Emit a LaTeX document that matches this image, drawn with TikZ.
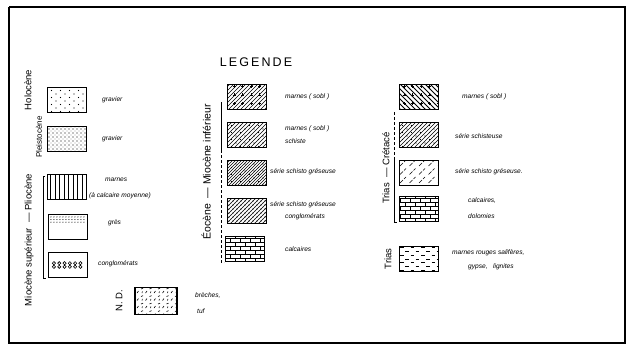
\documentclass[tikz,border=0pt]{standalone}
\usepackage{fontspec}
\setmainfont{Liberation Sans}
\usetikzlibrary{patterns}
% hand-drawn looking fills for the legend boxes
\pgfdeclarepatternformonly{sparse dots}{\pgfqpoint{-1pt}{-1pt}}{\pgfqpoint{10pt}{8pt}}{\pgfqpoint{9pt}{7pt}}{%
  \pgfpathcircle{\pgfqpoint{2pt}{1pt}}{0.55pt}\pgfpathcircle{\pgfqpoint{6.5pt}{4.5pt}}{0.55pt}\pgfusepath{fill}}
\pgfdeclarepatternformonly{row dots}{\pgfqpoint{-1pt}{-1pt}}{\pgfqpoint{5pt}{5pt}}{\pgfqpoint{4pt}{4pt}}{%
  \pgfpathcircle{\pgfqpoint{1pt}{1pt}}{0.65pt}\pgfpathcircle{\pgfqpoint{3pt}{3pt}}{0.45pt}\pgfusepath{fill}}
\pgfdeclarepatternformonly{small bricks}{\pgfqpoint{-0.5pt}{-0.5pt}}{\pgfqpoint{10.5pt}{8.5pt}}{\pgfqpoint{10pt}{8pt}}{%
  \pgfsetlinewidth{0.7pt}%
  \pgfpathmoveto{\pgfqpoint{0pt}{0pt}}\pgfpathlineto{\pgfqpoint{10pt}{0pt}}%
  \pgfpathmoveto{\pgfqpoint{0pt}{4pt}}\pgfpathlineto{\pgfqpoint{10pt}{4pt}}%
  \pgfpathmoveto{\pgfqpoint{0pt}{0pt}}\pgfpathlineto{\pgfqpoint{0pt}{4pt}}%
  \pgfpathmoveto{\pgfqpoint{5pt}{4pt}}\pgfpathlineto{\pgfqpoint{5pt}{8pt}}\pgfusepath{stroke}}
\pgfdeclarepatternformonly{salt dashes}{\pgfqpoint{-0.5pt}{-0.5pt}}{\pgfqpoint{11pt}{8pt}}{\pgfqpoint{10.5pt}{7.5pt}}{%
  \pgfsetlinewidth{0.7pt}%
  \pgfpathmoveto{\pgfqpoint{1pt}{1.5pt}}\pgfpathlineto{\pgfqpoint{4.5pt}{1.5pt}}%
  \pgfpathmoveto{\pgfqpoint{6pt}{5pt}}\pgfpathlineto{\pgfqpoint{9.5pt}{5pt}}\pgfusepath{stroke}}
\pgfdeclarepatternformonly{ticks}{\pgfqpoint{-0.5pt}{-0.5pt}}{\pgfqpoint{9pt}{8pt}}{\pgfqpoint{8.5pt}{7.5pt}}{%
  \pgfsetlinewidth{0.6pt}%
  \pgfpathmoveto{\pgfqpoint{1pt}{1pt}}\pgfpathlineto{\pgfqpoint{2.5pt}{3pt}}%
  \pgfpathmoveto{\pgfqpoint{5pt}{5pt}}\pgfpathlineto{\pgfqpoint{7pt}{5.8pt}}%
  \pgfpathmoveto{\pgfqpoint{6pt}{1pt}}\pgfpathlineto{\pgfqpoint{6.4pt}{2.6pt}}\pgfusepath{stroke}}
\pgfdeclarepatternformonly{crosses}{\pgfqpoint{-0.5pt}{-0.5pt}}{\pgfqpoint{9pt}{9pt}}{\pgfqpoint{8.5pt}{8.5pt}}{%
  \pgfsetlinewidth{0.6pt}%
  \pgfpathmoveto{\pgfqpoint{3pt}{4pt}}\pgfpathlineto{\pgfqpoint{6pt}{4pt}}%
  \pgfpathmoveto{\pgfqpoint{4.5pt}{2.5pt}}\pgfpathlineto{\pgfqpoint{4.5pt}{5.5pt}}\pgfusepath{stroke}}
\pgfdeclarepatternformonly{wide vlines}{\pgfqpoint{-0.5pt}{-0.5pt}}{\pgfqpoint{5pt}{5pt}}{\pgfqpoint{4.5pt}{4.5pt}}{%
  \pgfsetlinewidth{1pt}%
  \pgfpathmoveto{\pgfqpoint{1pt}{-0.5pt}}\pgfpathlineto{\pgfqpoint{1pt}{5pt}}\pgfusepath{stroke}}
\pgfdeclarepatternformonly{wide nelines}{\pgfqpoint{-1pt}{-1pt}}{\pgfqpoint{5pt}{5pt}}{\pgfqpoint{4pt}{4pt}}{%
  \pgfsetlinewidth{0.6pt}%
  \pgfpathmoveto{\pgfqpoint{0pt}{0pt}}\pgfpathlineto{\pgfqpoint{4pt}{4pt}}\pgfusepath{stroke}}
\pgfdeclarepatternformonly{wide nwlines}{\pgfqpoint{-1pt}{-1pt}}{\pgfqpoint{6pt}{6pt}}{\pgfqpoint{5pt}{5pt}}{%
  \pgfsetlinewidth{0.9pt}%
  \pgfpathmoveto{\pgfqpoint{0pt}{5pt}}\pgfpathlineto{\pgfqpoint{5pt}{0pt}}\pgfusepath{stroke}}
\pgfdeclarepatternformonly{short nelines}{\pgfqpoint{-0.5pt}{-0.5pt}}{\pgfqpoint{10pt}{9pt}}{\pgfqpoint{9.5pt}{8.5pt}}{%
  \pgfsetlinewidth{0.6pt}%
  \pgfpathmoveto{\pgfqpoint{1pt}{1pt}}\pgfpathlineto{\pgfqpoint{4pt}{4pt}}%
  \pgfpathmoveto{\pgfqpoint{5pt}{5pt}}\pgfpathlineto{\pgfqpoint{7pt}{7pt}}\pgfusepath{stroke}}

\begin{document}
\begin{tikzpicture}[x=1pt,y=-1pt,
  bx/.style={draw,line width=1.1pt,minimum width=39pt,minimum height=25pt,inner sep=0pt},
  lb/.style={font=\fontsize{6.6}{7.5}\selectfont\itshape,anchor=west,inner sep=0pt},
  ep/.style={font=\fontsize{9.5}{10}\selectfont,rotate=90,inner sep=0pt},
  br/.style={line width=0.7pt}
]
  \useasboundingbox (0,0) rectangle (631,354);
  % frame
  \draw[line width=1.6pt] (9,7) -- (626,7);
  \draw[line width=1.1pt] (9,7) -- (9,343) -- (625,343) -- (625,7);

  \node[font=\fontsize{12.5}{14}\selectfont] (title) at (256,62) {L\,E\,G\,E\,N\,D\,E};

  % left column
  \node[bx,pattern=sparse dots] (hol) at (67,100) {};
  \node[bx,pattern=row dots] (ple) at (67,139) {};
  \node[bx,pattern=wide vlines] (mar) at (67,187) {};
  \node[bx] (gre) at (68,227) {};
  \foreach \r in {0,1,2} \foreach \c in {0,...,11}
    \fill (gre.north west) ++(3+\c*3,3+\r*2.6) circle (0.55);
  \node[bx] (cgl) at (68,265) {};
  \foreach \c in {0,...,5} {
    \draw[line width=0.6pt] (cgl.west) ++(6+\c*5.3,-1.8) circle (1.6);
    \draw[line width=0.6pt] (cgl.west) ++(6+\c*5.3,1.8) circle (1.6);
  }
  \node[bx,minimum width=42pt,minimum height=27pt,pattern=ticks] (bre) at (156,301) {};

  \node[lb] (holt) at (102,100) {gravier};
  \node[lb] (plet) at (102,139) {gravier};
  \node[lb] (mart) at (105,180) {marnes};
  \node[lb] (mart2) at (89,196) {(à calcaire moyenne)};
  \node[lb] (gret) at (108,223) {grès};
  \node[lb] (cglt) at (98,264) {conglomérats};
  \node[lb] (bret) at (195,295) {brèches,};
  \node[lb] (bret2) at (197,311) {tuf};

  \node[ep] (holo) at (28,90) {Holocène};
  \node[ep,font=\fontsize{8}{9}\selectfont] (plei) at (39,137) {Pleistocène};
  \node[ep] (mioc) at (29,240) {Miocène supérieur \ —\ Pliocène};
  \node[ep] (nd) at (119,301) {N. D.};
  \coordinate (lbt) at (43,176);
  \coordinate (lbb) at (43,278);
  \draw[br] (lbt) ++(2,0) -- (lbt) -- (lbb) -- ++(3,0);

  % middle column
  \node[bx,pattern=wide nelines,postaction={pattern=crosses}] (so1) at (247,97) {};
  \node[bx,pattern=wide nelines,postaction={pattern=sparse dots}] (so2) at (247,135) {};
  \node[bx,pattern=north east lines,postaction={pattern=sparse dots}] (ssg) at (247,173) {};
  \node[bx,pattern=wide nelines,postaction={pattern=row dots}] (ssc) at (247,211) {};
  \node[bx,pattern=small bricks] (cal) at (245,249) {};

  \node[lb] (so1t) at (285,97) {marnes ( sobl )};
  \node[lb] (so2t) at (285,129) {marnes ( sobl )};
  \node[lb] (so2t2) at (285,141) {schiste};
  \node[lb] (ssgt) at (270,172) {série schisto gréseuse};
  \node[lb] (ssct) at (270,205) {série schisto gréseuse};
  \node[lb] (ssct2) at (285,217) {conglomérats};
  \node[lb] (calt) at (285,249) {calcaires};

  \node[ep,font=\fontsize{10.5}{11}\selectfont] (eoc) at (206,172) {Éocène \ —\ Miocène inférieur};
  \coordinate (mbt) at (221,102);
  \coordinate (mbm) at (221,150);
  \coordinate (mbb) at (221,262);
  \draw[br] (mbt) -- (mbm);
  \draw[br,dash pattern=on 3pt off 2pt] (mbm) -- (mbb) -- ++(3,0);

  % right column
  \node[bx,pattern=wide nwlines,postaction={pattern=crosses}] (cr1) at (419,97) {};
  \node[bx,pattern=wide nelines,postaction={pattern=sparse dots}] (cr2) at (419,135) {};
  \node[bx,pattern=short nelines] (cr3) at (419,173) {};
  \node[bx,pattern=small bricks] (cr4) at (419,209) {};
  \node[bx,pattern=salt dashes] (tri) at (419,259) {};

  \node[lb] (cr1t) at (462,97) {marnes ( sobl )};
  \node[lb] (cr2t) at (455,136) {série schisteuse};
  \node[lb] (cr3t) at (455,172) {série schisto gréseuse.};
  \node[lb] (cr4t) at (468,201) {calcaires,};
  \node[lb] (cr4t2) at (468,216) {dolomies};
  \node[lb] (trit) at (452,253) {marnes rouges salifères,};
  \node[lb] (trit2) at (468,267) {gypse, \ \ lignites};

  \node[ep] (tcr) at (386,168) {Trias \ —\ Crétacé};
  \node[ep] (trias) at (388,259) {Trias};
  \coordinate (rbt) at (394,112);
  \coordinate (rbm) at (394,160);
  \coordinate (rbb) at (394,222);
  \draw[br,dash pattern=on 3pt off 2pt] (rbt) -- (rbm);
  \draw[br] (rbm) -- (rbb) -- ++(3,0);
\end{tikzpicture}
\end{document}
